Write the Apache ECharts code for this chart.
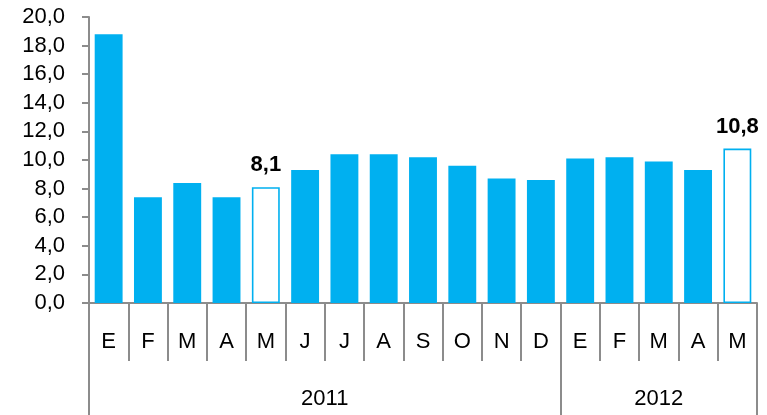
<!DOCTYPE html>
<html>
<head>
<meta charset="utf-8">
<title>Chart</title>
<script src="https://cdn.jsdelivr.net/npm/echarts@6/dist/echarts.min.js"></script>
<style>
  html, body { margin: 0; padding: 0; background: #fff; }
  #main { width: 767px; height: 415px; }
</style>
</head>
<body>
<div id="main"></div>
<script>
// data
var months = ['E','F','M','A','M','J','J','A','S','O','N','D','E','F','M','A','M'];
var values = [18.8, 7.4, 8.4, 7.4, 8.1, 9.3, 10.4, 10.4, 10.2, 9.6, 8.7, 8.6, 10.1, 10.2, 9.9, 9.3, 10.8];
var highlighted = [4, 16];          // bars drawn as outline with a value label
var years = ['2011', '2012'];
var yearSpans = [12, 5];            // number of months per year
var yTicks = { min: 0, max: 20, step: 2 };

var blue = '#00B0F0';
var gray = '#8C8C8C';
var font = 'Liberation Sans, Arial, sans-serif';
var fs = 22;

function fmt(v) { return v.toFixed(1).replace('.', ','); }

// year axis works in half-month steps so labels can sit in the middle of a span
var yearData = [];
for (var i = 0; i <= months.length * 2; i++) yearData.push('');
var yearTicks = [0];
var pos = 0;
for (var k = 0; k < years.length; k++) {
  yearData[pos * 2 + yearSpans[k]] = years[k];
  pos += yearSpans[k];
  yearTicks.push(pos * 2);
}

var barData = values.map(function (v, i) {
  if (highlighted.indexOf(i) < 0) return v;
  return {
    value: v,
    itemStyle: { color: '#fff', borderColor: blue, borderWidth: 1.6 },
    label: {
      show: true, position: 'top', distance: 11,
      formatter: function (p) { return fmt(p.value); },
      fontFamily: font, fontSize: fs, fontWeight: 'bold', color: '#000'
    }
  };
});

var chart = echarts.init(document.getElementById('main'));
chart.setOption({
  animation: false,
  grid: { left: 89, right: 10, top: 17, bottom: 112, containLabel: false },
  xAxis: [{
    type: 'category',
    data: months,
    boundaryGap: true,
    axisLine: { show: true, lineStyle: { color: gray, width: 2 } },
    axisTick: { show: true, interval: 0, length: 58, lineStyle: { color: gray, width: 2 } },
    axisLabel: { interval: 0, margin: 28, fontFamily: font, fontSize: fs, color: '#000' }
  }, {
    type: 'category',
    data: yearData,
    boundaryGap: false,
    position: 'bottom',
    axisLine: { show: false },
    axisTick: {
      show: true, length: 113, lineStyle: { color: gray, width: 2 },
      interval: function (idx) { return yearTicks.indexOf(idx) >= 0; }
    },
    axisLabel: {
      margin: 85, fontFamily: font, fontSize: fs, color: '#000',
      interval: function (idx, val) { return val !== ''; }
    }
  }],
  yAxis: {
    type: 'value',
    min: yTicks.min, max: yTicks.max, interval: yTicks.step,
    axisLine: { show: true, lineStyle: { color: gray, width: 2 } },
    axisTick: { show: true, length: 7, lineStyle: { color: gray, width: 2 } },
    splitLine: { show: false },
    axisLabel: { margin: 24, fontFamily: font, fontSize: fs, color: '#000', formatter: fmt }
  },
  series: [{
    type: 'bar',
    data: barData,
    barCategoryGap: '29%',
    itemStyle: { color: blue }
  }]
});
</script>
</body>
</html>
